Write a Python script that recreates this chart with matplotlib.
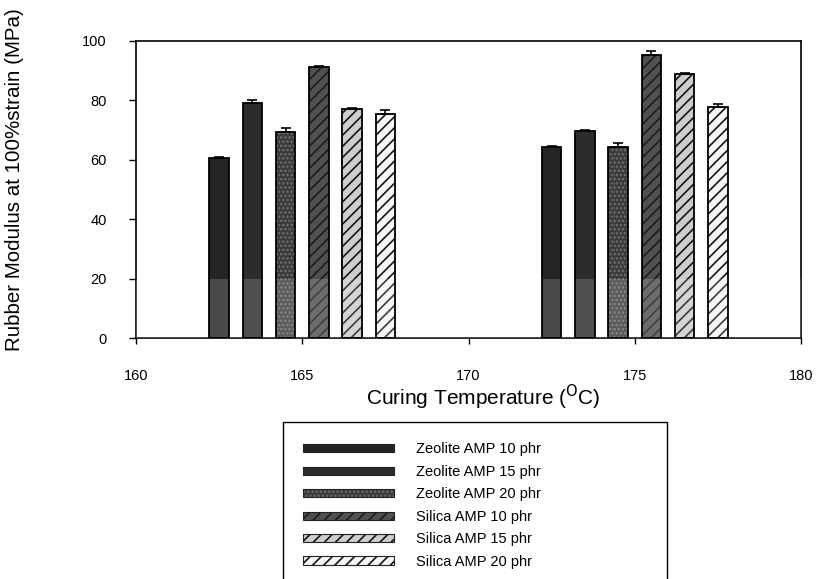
import matplotlib
matplotlib.use('Agg')
import matplotlib.pyplot as plt
import matplotlib.patches as mpatches
import numpy as np

plt.rcParams['font.family'] = ['Liberation Sans', 'DejaVu Sans']
plt.rcParams['hatch.linewidth'] = 1.2

# ---------------- data ----------------
temperatures = [165, 175]
series_labels = ['Zeolite AMP 10 phr', 'Zeolite AMP 15 phr', 'Zeolite AMP 20 phr',
                 'Silica AMP 10 phr', 'Silica AMP 15 phr', 'Silica AMP 20 phr']
zeolite10 = [60.5, 64.3]
zeolite15 = [79.0, 69.8]
zeolite20 = [69.5, 64.2]
silica10 = [91.2, 95.3]
silica15 = [77.2, 88.9]
silica20 = [75.3, 77.9]
zeolite10_err = [0.3, 0.3]
zeolite15_err = [1.0, 0.3]
zeolite20_err = [1.2, 1.5]
silica10_err = [0.4, 1.3]
silica15_err = [0.3, 0.3]
silica20_err = [1.5, 1.0]
x_ticks = [160, 165, 170, 175, 180]
y_ticks = [0, 20, 40, 60, 80, 100]

values = [zeolite10, zeolite15, zeolite20, silica10, silica15, silica20]
errors = [zeolite10_err, zeolite15_err, zeolite20_err, silica10_err, silica15_err, silica20_err]

# ---------------- styles ----------------
styles = [
    dict(face='#242424', hatch=None, hc=None),
    dict(face='#2c2c2c', hatch=None, hc=None),
    dict(face='#3a3a3a', hatch='....', hc='#6e6e6e'),
    dict(face='#505050', hatch='///', hc='#1c1c1c'),
    dict(face='#cdcdcd', hatch='///', hc='#151515'),
    dict(face='#f6f6f6', hatch='///', hc='#151515'),
]

W, H = 821, 579
fig = plt.figure(figsize=(W / 100, H / 100), dpi=100)
ax = fig.add_axes([136 / W, 1 - 338 / H, (801 - 136) / W, (338 - 41) / H])

offsets = np.arange(len(values)) - (len(values) - 1) / 2.0
width = 0.58
handles = []
for i, (vals, err, st) in enumerate(zip(values, errors, styles)):
    x = np.array(temperatures, dtype=float) + offsets[i]
    ax.bar(x, vals, width, color=st['face'], edgecolor='none', linewidth=0, zorder=2)
    parts = [mpatches.Patch(facecolor=st['face'], edgecolor='none')]
    if st['hatch']:
        ax.bar(x, vals, width, fill=False, hatch=st['hatch'], edgecolor=st['hc'],
               linewidth=0, zorder=3)
        parts.append(mpatches.Patch(fill=False, hatch=st['hatch'], edgecolor=st['hc'], linewidth=0))
    ax.bar(x, vals, width, fill=False, edgecolor='black', linewidth=1.3, zorder=5)
    parts.append(mpatches.Patch(fill=False, edgecolor='#222222', linewidth=0.8))
    ax.errorbar(x, vals, yerr=[np.zeros(len(err)), err], fmt='none', ecolor='black',
                elinewidth=1.2, capsize=3.5, capthick=1.2, zorder=6)
    handles.append(tuple(parts))

# lighter scanned band at the bottom of the bars
ax.axhspan(y_ticks[0], y_ticks[1], color='white', alpha=0.17, lw=0, zorder=4)

ax.set_xlim(x_ticks[0], x_ticks[-1])
ax.set_ylim(y_ticks[0], y_ticks[-1])
ax.set_xticks(x_ticks)
ax.set_yticks(y_ticks)
ax.tick_params(axis='y', direction='out', length=5, width=1, pad=16, labelsize=10.5)
ax.tick_params(axis='x', direction='out', length=4, width=1, pad=18, labelsize=10.5)
for s in ax.spines.values():
    s.set_linewidth(1.2)

ax.set_xlabel(r'Curing Temperature ($^{\mathrm{O}}$C)', fontsize=15)
ax.xaxis.label.set_va('center')
ax.xaxis.set_label_coords(0.522, -0.199)

fig.text(15 / W, 1 - 180 / H, 'Rubber Modulus at 100%strain (MPa)', rotation=90,
         ha='center', va='center', fontsize=14.8)

leg = fig.legend(handles, series_labels, loc='upper left',
                 bbox_to_anchor=(283 / W, 0, 384 / W, 1 - 422 / H),
                 bbox_transform=fig.transFigure, mode='expand', borderaxespad=0,
                 fontsize=10.5, handlelength=6.2, handleheight=0.48,
                 handletextpad=1.5, labelspacing=0.58, borderpad=1.4,
                 fancybox=False, framealpha=1, edgecolor='black')
leg.get_frame().set_linewidth(1.0)

fig.savefig('out.png', dpi=100)
